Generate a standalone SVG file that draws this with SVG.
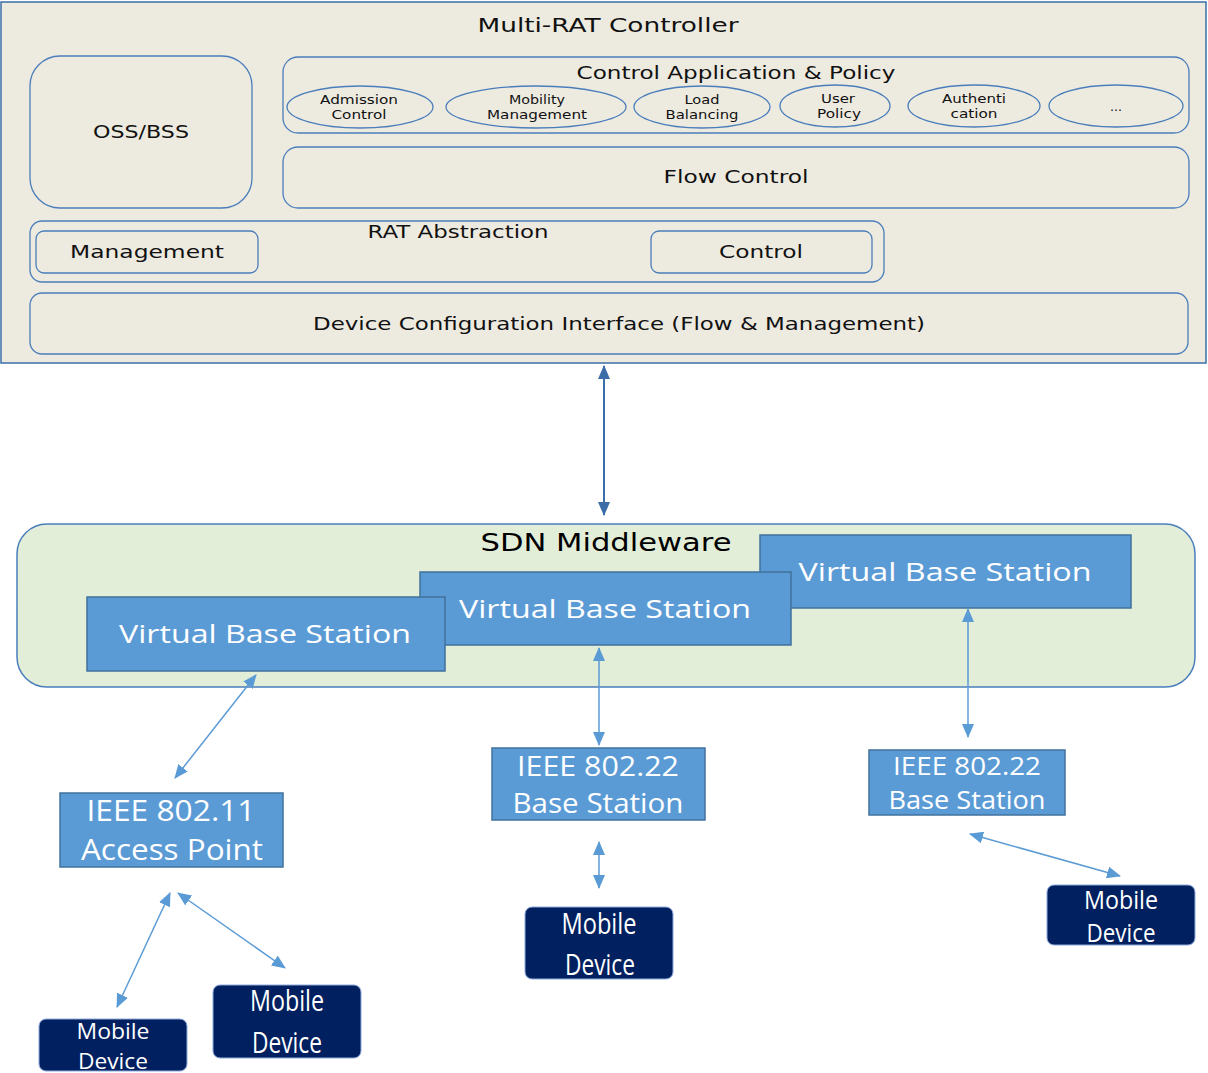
<svg xmlns="http://www.w3.org/2000/svg" width="1208" height="1073" viewBox="0 0 1208 1073">
<style>
.t{font-family:"DejaVu Sans","Liberation Sans",sans-serif;fill:#111;text-anchor:middle}
.w{font-family:"Open Sans","Liberation Sans",sans-serif;fill:#fff;text-anchor:middle}
.box{fill:none;stroke:#4a7ebb;stroke-width:1.3}
.vbs{fill:#5b9bd5;stroke:#41719c;stroke-width:1.5}
.md{fill:#002060;stroke:#8faadc;stroke-width:1}
.c{stroke:#5b9bd5;stroke-width:1.5;fill:none;marker-start:url(#ah);marker-end:url(#ah)}
</style>
<defs>
<marker id="ah" viewBox="0 0 14 12" refX="13" refY="6" markerWidth="14" markerHeight="12" markerUnits="userSpaceOnUse" orient="auto-start-reverse">
<path d="M0,0 L14,6 L0,12 z" fill="#5b9bd5"/>
</marker>
<marker id="ah2" viewBox="0 0 14 12" refX="13" refY="6" markerWidth="14" markerHeight="12" markerUnits="userSpaceOnUse" orient="auto-start-reverse">
<path d="M0,0 L14,6 L0,12 z" fill="#3b6ea8"/>
</marker>
</defs>

<g id="controller">
<rect x="1" y="2" width="1205" height="361" fill="#edeae0" stroke="#3b6ea8" stroke-width="1.5"/>
<text class="t" x="608" y="32" font-size="20" textLength="261" lengthAdjust="spacingAndGlyphs">Multi-RAT Controller</text>
</g>
<g id="oss-bss">
<rect class="box" x="30" y="56" width="222" height="152" rx="30"/>
<text class="t" x="141" y="138" font-size="18" textLength="96" lengthAdjust="spacingAndGlyphs">OSS/BSS</text>
</g>
<g id="control-app">
<rect class="box" x="283" y="57" width="906" height="76" rx="15"/>
<text class="t" x="736" y="79" font-size="18" textLength="319" lengthAdjust="spacingAndGlyphs">Control Application &amp; Policy</text>
</g>
<g id="admission">
<ellipse class="box" cx="360" cy="107" rx="73" ry="21"/>
<text class="t" x="359" y="104" font-size="12.5" textLength="78" lengthAdjust="spacingAndGlyphs">Admission</text>
<text class="t" x="359" y="119" font-size="12.5" textLength="55" lengthAdjust="spacingAndGlyphs">Control</text>
</g>
<g id="mobility">
<ellipse class="box" cx="536" cy="107" rx="90" ry="21"/>
<text class="t" x="537" y="104" font-size="12.5" textLength="56" lengthAdjust="spacingAndGlyphs">Mobility</text>
<text class="t" x="537" y="119" font-size="12.5" textLength="100" lengthAdjust="spacingAndGlyphs">Management</text>
</g>
<g id="load">
<ellipse class="box" cx="702" cy="107" rx="68" ry="21"/>
<text class="t" x="702" y="104" font-size="12.5" textLength="35" lengthAdjust="spacingAndGlyphs">Load</text>
<text class="t" x="702" y="119" font-size="12.5" textLength="73" lengthAdjust="spacingAndGlyphs">Balancing</text>
</g>
<g id="user-policy">
<ellipse class="box" cx="835" cy="106" rx="55" ry="21"/>
<text class="t" x="838" y="103" font-size="12.5" textLength="34" lengthAdjust="spacingAndGlyphs">User</text>
<text class="t" x="839" y="118" font-size="12.5" textLength="44" lengthAdjust="spacingAndGlyphs">Policy</text>
</g>
<g id="auth">
<ellipse class="box" cx="974" cy="106" rx="66" ry="21"/>
<text class="t" x="974" y="103" font-size="12.5" textLength="64" lengthAdjust="spacingAndGlyphs">Authenti</text>
<text class="t" x="974" y="118" font-size="12.5" textLength="47" lengthAdjust="spacingAndGlyphs">cation</text>
</g>
<g id="more">
<ellipse class="box" cx="1116" cy="106" rx="67" ry="21"/>
<text class="t" x="1116" y="111" font-size="12.5">...</text>
</g>
<g id="flow-control">
<rect class="box" x="283" y="147" width="906" height="61" rx="15"/>
<text class="t" x="736" y="183" font-size="18" textLength="145" lengthAdjust="spacingAndGlyphs">Flow Control</text>
</g>
<g id="rat-abstraction">
<rect class="box" x="30" y="221" width="854" height="61" rx="12"/>
<text class="t" x="458" y="238" font-size="17" textLength="181" lengthAdjust="spacingAndGlyphs">RAT Abstraction</text>
</g>
<g id="management">
<rect class="box" x="36" y="231" width="222" height="42" rx="8"/>
<text class="t" x="147" y="258" font-size="18" textLength="154" lengthAdjust="spacingAndGlyphs">Management</text>
</g>
<g id="control">
<rect class="box" x="651" y="231" width="221" height="42" rx="8"/>
<text class="t" x="761" y="258" font-size="18" textLength="84" lengthAdjust="spacingAndGlyphs">Control</text>
</g>
<g id="device-config">
<rect class="box" x="30" y="293" width="1158" height="61" rx="12"/>
<text class="t" x="619" y="330" font-size="18" textLength="612" lengthAdjust="spacingAndGlyphs">Device Configuration Interface (Flow &amp; Management)</text>
</g>

<g id="sdn-middleware">
<rect x="17" y="524" width="1178" height="163" rx="30" fill="#e3eed9" stroke="#4a7ebb" stroke-width="1.5"/>
<text x="606" y="551" font-family="DejaVu Sans, sans-serif" font-size="25" fill="#000" text-anchor="middle" textLength="251" lengthAdjust="spacingAndGlyphs">SDN Middleware</text>
</g>
<g id="vbs3">
<rect class="vbs" x="760" y="535" width="371" height="73"/>
<text class="w" x="945" y="581" font-size="25" textLength="293" lengthAdjust="spacingAndGlyphs">Virtual Base Station</text>
</g>
<g id="vbs2">
<rect class="vbs" x="420" y="572" width="371" height="73"/>
<text class="w" x="605" y="618" font-size="25" textLength="292" lengthAdjust="spacingAndGlyphs">Virtual Base Station</text>
</g>
<g id="vbs1">
<rect class="vbs" x="87" y="597" width="358" height="74"/>
<text class="w" x="265" y="643" font-size="25" textLength="292" lengthAdjust="spacingAndGlyphs">Virtual Base Station</text>
</g>

<g id="ap-80211">
<rect class="vbs" x="60" y="793" width="223" height="74"/>
<text class="w" x="171" y="821" font-size="29" textLength="169" lengthAdjust="spacingAndGlyphs">IEEE 802.11</text>
<text class="w" x="172" y="860" font-size="29" textLength="182" lengthAdjust="spacingAndGlyphs">Access Point</text>
</g>
<g id="bs-80222-a">
<rect class="vbs" x="492" y="748" width="213" height="72"/>
<text class="w" x="598" y="776" font-size="28" textLength="162" lengthAdjust="spacingAndGlyphs">IEEE 802.22</text>
<text class="w" x="598" y="813" font-size="28" textLength="171" lengthAdjust="spacingAndGlyphs">Base Station</text>
</g>
<g id="bs-80222-b">
<rect class="vbs" x="869" y="750" width="196" height="65"/>
<text class="w" x="967" y="775" font-size="25" textLength="148" lengthAdjust="spacingAndGlyphs">IEEE 802.22</text>
<text class="w" x="967" y="809" font-size="25" textLength="157" lengthAdjust="spacingAndGlyphs">Base Station</text>
</g>

<g id="md1">
<rect class="md" x="39" y="1019" width="148" height="52" rx="7"/>
<text class="w" x="113" y="1039" font-size="22" textLength="73" lengthAdjust="spacingAndGlyphs">Mobile</text>
<text class="w" x="113" y="1069" font-size="22" textLength="70" lengthAdjust="spacingAndGlyphs">Device</text>
</g>
<g id="md2">
<rect class="md" x="213" y="985" width="148" height="73" rx="7"/>
<text class="w" x="287" y="1011" font-size="29" textLength="74" lengthAdjust="spacingAndGlyphs">Mobile</text>
<text class="w" x="287" y="1053" font-size="29" textLength="70" lengthAdjust="spacingAndGlyphs">Device</text>
</g>
<g id="md3">
<rect class="md" x="525" y="907" width="148" height="72" rx="7"/>
<text class="w" x="599" y="934" font-size="29" textLength="75" lengthAdjust="spacingAndGlyphs">Mobile</text>
<text class="w" x="600" y="975" font-size="29" textLength="70" lengthAdjust="spacingAndGlyphs">Device</text>
</g>
<g id="md4">
<rect class="md" x="1047" y="885" width="148" height="60" rx="7"/>
<text class="w" x="1121" y="909" font-size="26" textLength="74" lengthAdjust="spacingAndGlyphs">Mobile</text>
<text class="w" x="1121" y="942" font-size="26" textLength="69" lengthAdjust="spacingAndGlyphs">Device</text>
</g>

<g id="connectors">
<line x1="604" y1="366" x2="604" y2="515" stroke="#3b6ea8" stroke-width="2" marker-start="url(#ah2)" marker-end="url(#ah2)"/>
<line class="c" x1="256" y1="675" x2="175" y2="778"/>
<line class="c" x1="599" y1="648" x2="599" y2="745"/>
<line class="c" x1="968" y1="609" x2="968" y2="737"/>
<line class="c" x1="599" y1="842" x2="599" y2="888"/>
<line class="c" x1="170" y1="893" x2="117" y2="1007"/>
<line class="c" x1="178" y1="893" x2="285" y2="968"/>
<line class="c" x1="970" y1="834" x2="1120" y2="876"/>
</g>
</svg>
